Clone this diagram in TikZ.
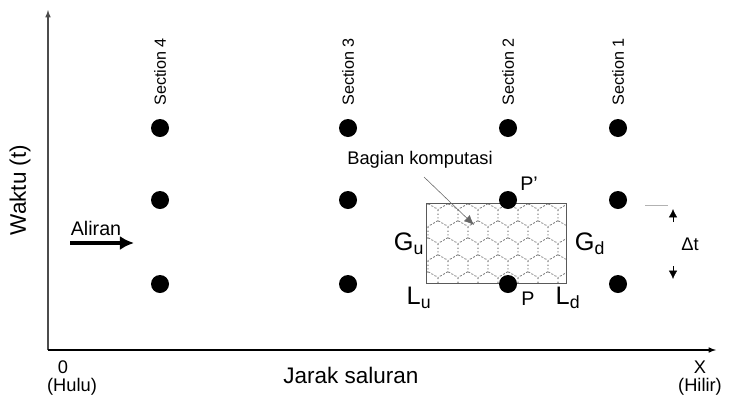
\documentclass[tikz,border=0pt]{standalone}
\usepackage{fontspec}
\setmainfont{Liberation Sans}
\usetikzlibrary{arrows.meta,positioning}

\begin{document}
\begin{tikzpicture}[
    x=0.025cm, y=-0.025cm,
    >=latex,
    font=\fontsize{13}{15}\selectfont,
    dot/.style={circle, fill=black, inner sep=0pt, minimum size=0.45cm},
    seclabel/.style={rotate=90, font=\fontsize{11.5}{13}\selectfont, inner sep=1pt},
    biglbl/.style={font=\fontsize{18}{20}\selectfont, inner sep=1pt},
    axlbl/.style={font=\fontsize{13}{15}\selectfont, inner sep=1pt}
]
    \useasboundingbox (0,0) rectangle (729,408);

    % Axes
    \coordinate (origin) at (48,350);
    \coordinate (tend) at (48,10);
    \coordinate (xend) at (716,350);
    \draw[->, thick, gray!60!black] (origin) -- (tend);
    \draw[->, thick] (origin) -- (xend);
    \node[rotate=90, font=\fontsize{16}{18}\selectfont] (waktu) at (20,190) {Waktu (t)};
    \node[font=\fontsize{16}{18}\selectfont] (jarak) at (351,375) {Jarak saluran};
    \node[axlbl] (zero) at (63,367) {0};
    \node[axlbl] (hulu) at (72,387) {(Hulu)};
    \node[axlbl] (xlbl) at (700,367) {X};
    \node[axlbl] (hilir) at (700,387) {(Hilir)};

    % Computational cell
    \node[minimum width=3.475cm, minimum height=1.975cm, inner sep=0pt] (comp) at (496.5,243.5) {};
    \begin{scope}
        \clip (comp.south west) rectangle (comp.north east);
        \foreach \j in {0,...,6} {
            \pgfmathsetmacro\off{mod(\j,2)*10}
            \foreach \i in {0,...,8} {
                \draw[gray!80!black, dotted, line width=0.6pt] ({418+\i*20+\off},{198+\j*17})
                    +(30:11.5) -- +(90:11.5) -- +(150:11.5) -- +(210:11.5) -- +(270:11.5) -- +(330:11.5) -- cycle;
            }
        }
    \end{scope}
    \draw[gray!70!black] (comp.south west) rectangle (comp.north east);

    % Nodes
    \foreach \x/\n in {160/4, 348/3, 508/2, 618/1} {
        \node[seclabel] (sec\n) at (\x,72) {Section \n};
        \node[dot] (p\n c) at (\x,128) {};
        \node[dot] (p\n b) at (\x,200) {};
        \node[dot] (p\n a) at (\x,284) {};
    }

    \node[biglbl, font=\fontsize{14}{16}\selectfont] (pprime) at (529,184) {P'};
    \node[biglbl, font=\fontsize{14}{16}\selectfont] (pnode) at (528,299) {P};
    \node[biglbl] (gu) at (409,244) {G\textsubscript{u}};
    \node[biglbl] (gd) at (590,244) {G\textsubscript{d}};
    \node[biglbl] (lu) at (419,298) {L\textsubscript{u}};
    \node[biglbl] (ld) at (568,298) {L\textsubscript{d}};

    \node (bagian) at (420,160) {Bagian komputasi};
    \coordinate (cellpt) at (474,225);
    \draw[-{Latex[length=7pt,width=6pt]}, gray!80!black] (424,177) -- (cellpt);

    % Flow
    \node[font=\fontsize{14}{16}\selectfont] (aliran) at (96,228) {Aliran};
    \coordinate (flowstart) at (70,243);
    \coordinate (flowend) at (134,243);
    \draw[-{Latex[length=10pt,width=10pt]}, line width=2.5pt] (flowstart) -- (flowend);

    % Time step
    \node (dt) at (690,244) {Δt};
    \coordinate (dttop) at (673,209);
    \coordinate (dtbot) at (673,279);
    \draw[gray!60] (645,205) -- (668,205);
    \draw[-{Latex[length=6pt,width=6pt]}] (673,222) -- (dttop);
    \draw[-{Latex[length=6pt,width=6pt]}] (673,266) -- (dtbot);
\end{tikzpicture}
\end{document}
